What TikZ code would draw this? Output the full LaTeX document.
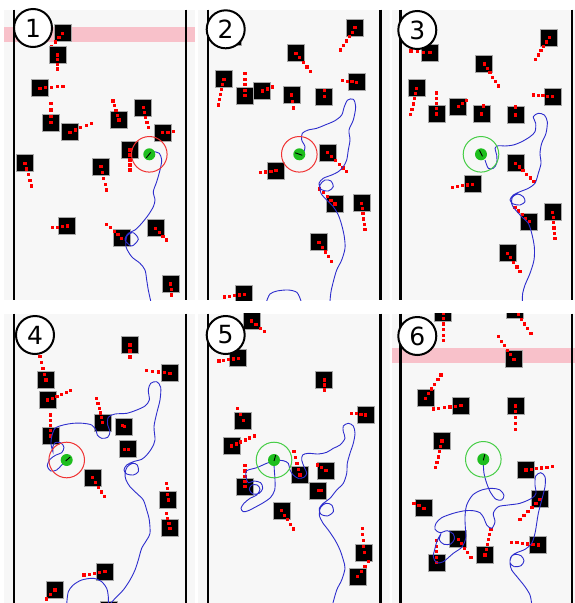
\documentclass[tikz,border=0pt]{standalone}
\usepackage{fontspec}
\newfontfamily\numfont{DejaVu Sans}
\definecolor{bgc}{RGB}{247,247,247}
\definecolor{bandc}{RGB}{248,193,202}
\definecolor{pathblue}{RGB}{45,45,205}
\definecolor{robg}{RGB}{30,190,30}
\definecolor{ringg}{RGB}{70,205,70}
\definecolor{ringr}{RGB}{240,50,50}
\tikzset{
  panelbg/.style={fill=bgc},
  wall/.style={line width=2.8pt,black},
  band/.style={fill=bandc},
  obsq/.style={fill=black,draw=gray!70,line width=0.7pt},
  trajline/.style={draw=pathblue,line width=0.9pt},
  numcirc/.style={circle,draw=black,line width=2pt,fill=white,minimum size=38pt,inner sep=0pt,font=\numfont\fontsize{25}{25}\selectfont},
}
\newcommand\obst[4]{%
  \filldraw[obsq] ({#1-8.5},{#2-8.5}) rectangle ({#1+8.5},{#2+8.5});
  \pgfmathtruncatemacro\nd{max(1,round(veclen(#3,#4)/5.5))}%
  \foreach \k in {0,...,\nd}{%
    \fill[red] ({#1+(#3)*\k/\nd-1.6},{#2+(#4)*\k/\nd-1.6}) rectangle ++(3.2,3.2);}%
}
\newcommand\robot[7]{%
  \draw[#3,line width=1pt] (#1,#2) circle (17.8);
  \fill[robg] (#1,#2) circle (6);
  \draw[line width=0.9pt] ({#1+#4},{#2+#5}) -- ({#1+#6},{#2+#7});
}
\begin{document}
\begin{tikzpicture}[x=1pt,y=-1pt]
\useasboundingbox (0,0) rectangle (575,603);
% ================= Panel 1
\begin{scope}
\clip (4,9.5) rectangle (195,300);
\fill[panelbg] (4,9.5) rectangle (195,300);
\fill[band] (4,27) rectangle (195,42);
\draw[wall] (14,9.5) -- (14,300);
\draw[wall] (186,9.5) -- (186,300);
\obst{62.7}{33.3}{-11}{13}
\obst{57.7}{55}{0}{14}
\obst{40}{88.3}{23}{-2}
\obst{51}{122.7}{0}{-19}
\obst{70}{132.3}{21.7}{-9}
\obst{119}{120}{-6}{-19}
\obst{143.3}{107.7}{5}{20}
\obst{162.7}{132.7}{10.7}{-1}
\obst{130}{150}{0}{20}
\obst{25}{163.3}{6.7}{22.7}
\obst{101}{166.7}{5.7}{23.3}
\obst{67.3}{226}{-15}{1.7}
\obst{121.7}{238.3}{-15}{-14}
\obst{155.7}{228.3}{11}{11.7}
\obst{170.7}{284}{1}{11}
\draw[trajline] plot[smooth] coordinates {(154,151.7) (159.3,153.3) (161.7,160) (160,170) (156.7,181.7) (153.3,191.7) (155,200) (153.3,206.7) (148.3,215) (141.7,223.3) (135,230) (128.3,233.3) (125,240) (131.7,246) (138.3,239.3) (133.3,232.7) (127,236) (126,246.7) (131.7,256.7) (140,263.3) (145,270) (146.7,280) (148.3,290) (150.7,301)};
\robot{149.3}{154.3}{ringr}{-3}{3.5}{1.5}{-2}
\end{scope}
% ================= Panel 2
\begin{scope}
\clip (198,9.5) rectangle (389.5,300);
\fill[panelbg] (198,9.5) rectangle (389.5,300);
\draw[wall] (208,9.5) -- (208,300);
\draw[wall] (380.5,9.5) -- (380.5,300);
\filldraw[obsq] (224.5,28) rectangle (241.5,45);
\obst{355}{27.7}{-14.3}{22.3}
\obst{296}{53.3}{14.7}{18.3}
\obst{224}{79.3}{-5.7}{25.7}
\obst{245}{95.7}{0}{-22}
\obst{262.3}{91}{10}{-4}
\obst{291.7}{95}{2}{13}
\obst{324.3}{96.7}{0}{-6}
\obst{356.7}{82.3}{-14.3}{-1.7}
\obst{327.7}{152.7}{19}{19}
\obst{276}{170.7}{-15.3}{2}
\obst{335}{204}{-15.7}{-15}
\obst{361.7}{203.3}{3.3}{26}
\obst{319}{242.3}{12.7}{19.3}
\obst{244.3}{294.3}{-20}{2.7}
\draw[trajline] plot[smooth] coordinates {(303.3,153.3) (305,146.7) (301.7,140) (302.3,133.3) (308.3,130) (316.7,128.3) (325,125) (335,120.7) (341.7,115) (344.3,106.7) (347.7,100) (353.3,99.3) (355.7,106.7) (353.3,120) (349,130) (350,140) (348.3,150) (346.7,160) (343.3,166.7) (338.3,171.7) (331.7,175) (323.3,178.3) (319,183.3) (321,189.3) (328.3,191) (333.3,186.7) (331,181) (325,180) (320,185) (321,193.3) (326.7,200) (333.3,206.7) (338.3,215) (341.7,225) (344.3,236.7) (345,248.3) (341.7,260) (336.7,270) (333.3,281.7) (331,291.7) (330,301)};
\draw[trajline] plot[smooth] coordinates {(266.7,301) (270,294) (277,291) (288.3,290) (297,292.5) (301,301)};
\robot{299.3}{154.3}{ringr}{-4}{-1.5}{3}{1}
\end{scope}
% ================= Panel 3
\begin{scope}
\clip (391.5,9.5) rectangle (575,300);
\fill[panelbg] (391.5,9.5) rectangle (575,300);
\draw[wall] (400.5,9.5) -- (400.5,300);
\draw[wall] (572,9.5) -- (572,300);
\obst{549.3}{37.7}{-13.7}{21.7}
\obst{430}{52.7}{-19}{-1.7}
\obst{484.3}{64}{14}{22}
\obst{416.7}{88.3}{-6}{26}
\obst{436.7}{114}{0}{-21}
\obst{458.3}{106.7}{8}{-6}
\obst{481.7}{114}{2}{-8}
\obst{515.7}{115}{0}{-8}
\obst{552.7}{96.7}{-19.3}{-1.7}
\obst{515.7}{163.3}{18.3}{18.3}
\obst{472.7}{184.3}{-20}{3}
\obst{529.3}{221.7}{-14.3}{-14.3}
\obst{552.7}{212.3}{2.3}{26}
\obst{507.7}{253.3}{12.3}{18.3}
\draw[trajline] plot[smooth] coordinates {(485,160) (488.3,168.3) (493.3,168.3) (496.7,163.3) (496.7,155) (495,148.3) (498.3,145.7) (505,146) (513.3,145) (521.7,141.7) (530,136.7) (535,131.7) (535.7,123.3) (533.3,116.7) (538.3,113.3) (544.3,115) (547.3,121.7) (546,133.3) (541.7,143.3) (540,153.3) (541,163.3) (538.3,173.3) (535,183.3) (528.3,188.3) (520,191.7) (513.3,195) (510,200) (513.3,204) (520,205) (525,201.7) (523.3,196.7) (517.7,194) (512.3,197.3) (511.7,204) (515,209.3) (521.7,216.7) (528.3,223.3) (531.7,233.3) (534.3,246.7) (534,260) (530,273.3) (525,285) (522.7,293.3) (522.3,301)};
\robot{481}{154.3}{ringg}{-1.5}{-4}{1.5}{2}
\end{scope}
% ================= Panel 4
\begin{scope}
\clip (4,313.5) rectangle (195,603);
\fill[panelbg] (4,313.5) rectangle (195,603);
\draw[wall] (14,313.5) -- (14,603);
\draw[wall] (186,313.5) -- (186,603);
\obst{130}{345}{0}{12}
\obst{170}{373.3}{-23.3}{-2.7}
\obst{46}{380}{-6}{-23.3}
\obst{47.7}{400}{23}{-9.3}
\obst{50.7}{436}{0}{-21}
\obst{102.7}{422.7}{-6}{-24.3}
\obst{124.3}{426.7}{-1.5}{-1.5}
\obst{128.3}{449.3}{-4}{0}
\obst{92.7}{477.7}{11.7}{19}
\obst{168.3}{500}{-1.7}{-16.7}
\obst{170}{528.3}{-3.3}{-15}
\obst{105}{571.7}{-21}{3.3}
\obst{55}{590}{-8.3}{9}
\filldraw[obsq] (100,601.5) rectangle (117,618.5);
\draw[trajline] plot[smooth] coordinates {(66.7,460) (61.7,465) (56.7,470) (50.7,471) (47.3,466) (50,459.3) (56,455) (61.7,452.7) (64,447.3) (60.7,442.7) (55,442.7) (52.7,447.3) (53,452) (51,444) (51.7,436.7) (55,428.3) (63.3,425) (73.3,423.3) (83.3,423.3) (91.7,425) (96,430) (97.3,435) (101.7,438.3) (107.7,437.3) (110,431.7) (107.7,425) (108.3,417.3) (115,414) (126.7,413.3) (136.7,410) (145,406) (149.3,400) (148.3,390) (150.7,383.3) (156.7,381.7) (160.7,387.3) (160,400) (156.7,413.3) (154,426.7) (155,440) (151.7,448.3) (146.7,455) (141.7,459.3) (133.3,461.7) (126.7,465) (124,470) (126.7,474) (133.3,475) (138.3,471.7) (137.3,465) (132.7,463.3) (127.3,466.7) (125,473.3) (126,480) (130,486.7) (136.7,493.3) (143.3,500) (146.7,510) (149.3,520) (150,533.3) (146.7,540) (141.7,548.3) (138.3,560) (135,570) (130,580) (123.3,590) (116.7,596.7) (110,604)};
\draw[trajline] plot[smooth] coordinates {(66.7,604) (68.3,591.7) (73.3,585) (81.7,580) (93.3,578.3) (101.7,581.7) (106.7,588.3) (108.3,596.7) (108.3,604)};
\robot{66.7}{460}{ringr}{-1}{1}{3.5}{-3}
\end{scope}
% ================= Panel 5
\begin{scope}
\clip (198,313.5) rectangle (389.5,603);
\fill[panelbg] (198,313.5) rectangle (389.5,603);
\draw[wall] (208,313.5) -- (208,603);
\draw[wall] (380.5,313.5) -- (380.5,603);
\obst{251.7}{321}{12.7}{10.7}
\obst{238.3}{358.3}{-19.3}{2.7}
\obst{324.3}{380}{0}{10}
\obst{365.7}{415}{-14}{-1.7}
\obst{243.3}{420.7}{-5.7}{-12.3}
\obst{231.7}{446}{22.7}{-10}
\obst{245}{486.7}{0}{-21}
\obst{300}{475}{-6}{-23.3}
\obst{326}{470.7}{-8.7}{-5.7}
\obst{318.3}{490.7}{3.3}{0}
\obst{281.7}{510.7}{12}{18.3}
\obst{364.3}{552.7}{-2}{-24}
\obst{357.7}{576.7}{11}{-15}
\draw[trajline] plot[smooth] coordinates {(332.7,604) (336.7,590) (341.7,580) (345,568.3) (343.3,560) (340,550) (335,540) (328.3,530) (322.7,522.7) (319.3,515) (320.7,507.3) (326,503.3) (331.7,505) (333.3,511.7) (327.3,516) (320.7,514) (319.3,508.3) (323.3,503.3) (330,498.3) (336.7,490) (343.3,483.3) (346.7,473.3) (347.3,463.3) (350,453.3) (353.3,443.3) (355,433.3) (353.3,426) (348.3,423.3) (343.3,426) (343.3,431.7) (345,438.3) (340,445) (333.3,448.3) (326.7,452.3) (318.3,454) (308.3,453.3) (302.7,455) (301.7,460) (304,466.7) (306.7,473.3) (304,477.3) (298.3,478.3) (293.3,475) (290,470) (288.3,463.3) (283.3,460.7) (276,460.5) (266.7,463.3) (256.7,467.7) (246.7,470.7) (246,476.7) (248.3,482.7) (254,481) (260.7,482.7) (262.7,488.3) (259.3,493.3) (252.7,494) (249.3,489.3) (251.7,485) (257.3,485) (260,489.3) (256.7,495) (250,498.3) (244,503.3) (241,508.3) (243.3,511.7) (248.3,510.7) (255,507.3) (263.3,502.7) (270.7,497.3) (274.7,490) (275,480) (274.3,470) (274,461.7)};
\robot{274}{460}{ringg}{0}{1}{1.7}{-5}
\end{scope}
% ================= Panel 6
\begin{scope}
\clip (391.5,313.5) rectangle (575,603);
\fill[panelbg] (391.5,313.5) rectangle (575,603);
\fill[band] (391.5,348) rectangle (575,363);
\draw[wall] (400.5,313.5) -- (400.5,603);
\draw[wall] (572,313.5) -- (572,603);
\obst{443.3}{313}{0}{27.7}
\obst{515}{310}{16}{23.3}
\obst{514}{359.3}{-15.7}{-22.7}
\obst{425.7}{398.3}{15.3}{-23.3}
\obst{461}{405.7}{-27.7}{3.3}
\obst{515.7}{406}{0}{23.3}
\obst{442}{441}{-6.3}{26.7}
\obst{526}{470}{26.3}{-3.3}
\obst{424}{508.3}{-10}{-5}
\obst{540}{499.3}{-20}{20}
\obst{458.3}{539.3}{12.7}{18}
\obst{436.7}{562.7}{0}{-22}
\obst{485}{555}{6}{-25.7}
\obst{538.3}{545}{-26.7}{-2.7}
\draw[trajline] plot[smooth] coordinates {(531.7,604) (530,595) (525,586.7) (518.3,578.3) (511.7,570) (510,563.3) (510.7,557.3) (515,554.3) (521,555.7) (524,560.7) (521,565.7) (514.3,566.7) (510,562.7) (511.7,556) (516.7,552.7) (525,549.3) (531.7,543.3) (535,533.3) (536.7,523.3) (538.3,513.3) (541.7,500) (545,486.7) (545,476.7) (540.7,472.7) (535.7,476) (535,485) (536,493.3) (531.7,498.3) (520,503.3) (508.3,505) (498.3,506.7) (493.3,513.3) (495,521.7) (491.7,528.3) (486.7,525) (484,518.3) (480,512.7) (473.3,510.7) (465,510.7) (453.3,513.3) (441.7,517.7) (436,523.3) (435,529.3) (440,532.7) (447.3,530.7) (453.3,534) (454.3,539.3) (450.7,544) (444,544.3) (439.3,540) (440.7,534.3) (437,541) (435,548.3) (433.3,556.7) (436.7,562.7) (443.3,561.7) (453.3,553.3) (461.7,547.3) (465.7,538.3) (465.3,526.7) (465,516.7) (466.7,505) (472.7,495) (481.7,490) (491.7,488.3) (500,490) (504,495.3) (501.7,500) (496,499.3) (490.7,492.7) (486.7,483.3) (484,473.3) (483.3,463.3)};
\robot{483.3}{459.3}{ringg}{0}{1}{1.5}{-5}
\end{scope}
% ================= number badges
\node[numcirc] (n1) at (33,28) {1};
\node[numcirc] (n2) at (225.7,29.3) {2};
\node[numcirc] (n3) at (417.3,30) {3};
\node[numcirc] (n4) at (35,335) {4};
\node[numcirc] (n5) at (225.7,335) {5};
\node[numcirc] (n6) at (417.3,336) {6};
\end{tikzpicture}
\end{document}
